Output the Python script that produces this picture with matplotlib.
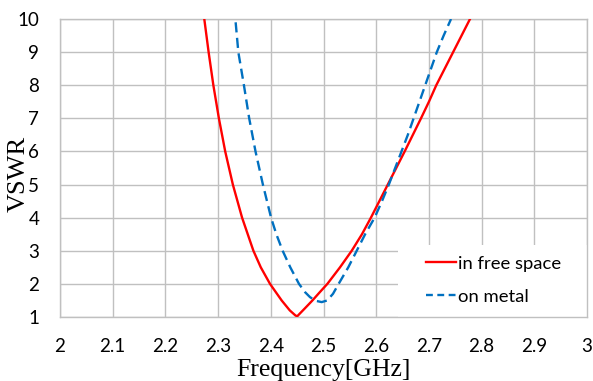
import matplotlib
matplotlib.use("Agg")
import matplotlib.pyplot as plt
from matplotlib.lines import Line2D
from matplotlib.patches import Rectangle

# Data
free_f = [2.2738, 2.282, 2.291, 2.3015, 2.3135, 2.328, 2.3455, 2.367, 2.381, 2.3985, 2.4206,
          2.436, 2.4465, 2.450, 2.464, 2.479, 2.493, 2.5073, 2.5313, 2.5535, 2.573, 2.590,
          2.606, 2.622, 2.638, 2.654, 2.6695, 2.685, 2.700, 2.714, 2.730, 2.746, 2.762, 2.778]
free_v = [10, 9, 8, 7, 6, 5, 4, 3, 2.5, 2.0, 1.5,
          1.2, 1.05, 1.02, 1.25, 1.5, 1.75, 2.0, 2.5, 3.0, 3.5, 4.0,
          4.5, 5.0, 5.5, 6.0, 6.5, 7.0, 7.5, 8.0, 8.5, 9.0, 9.5, 10.0]

metal_f = [2.3333, 2.3384, 2.349, 2.359, 2.371, 2.385, 2.4005, 2.4105, 2.4225, 2.437, 2.4535,
           2.465, 2.4744, 2.485, 2.4966, 2.507, 2.518, 2.5287, 2.547, 2.563, 2.579, 2.597,
           2.611, 2.624, 2.636, 2.648, 2.660, 2.671, 2.682, 2.693, 2.704, 2.715, 2.728, 2.742]
metal_v = [9.9, 9, 8, 7, 6, 5, 4, 3.5, 3.0, 2.5, 2.0,
           1.75, 1.6, 1.49, 1.45, 1.5, 1.7, 2.0, 2.5, 3.0, 3.5, 4.0,
           4.5, 5.0, 5.5, 6.0, 6.5, 7.0, 7.5, 8.0, 8.5, 9.0, 9.5, 10.0]

x_ticks = [2.0, 2.1, 2.2, 2.3, 2.4, 2.5, 2.6, 2.7, 2.8, 2.9, 3.0]
x_labels = ["2", "2.1", "2.2", "2.3", "2.4", "2.5", "2.6", "2.7", "2.8", "2.9", "3"]
y_ticks = [1, 2, 3, 4, 5, 6, 7, 8, 9, 10]
series_labels = ["in free space", "on metal"]

W, H = 593, 381
fig = plt.figure(figsize=(W / 100, H / 100), dpi=100)
ax = fig.add_axes([60 / W, (H - 317) / H, 527 / W, 298 / H])

grid_c = "#c0c0c0"
ax.set_xlim(2.0, 3.0)
ax.set_ylim(1, 10)
ax.set_xticks(x_ticks)
ax.set_xticklabels(x_labels)
ax.set_yticks(y_ticks)
ax.grid(True, color=grid_c, linewidth=1.0)
ax.set_axisbelow(True)
for s in ax.spines.values():
    s.set_color(grid_c)
    s.set_linewidth(1.0)
    s.set_zorder(1.8)

ax.tick_params(axis="both", length=0, labelsize=13.5, colors="black")
ax.tick_params(axis="x", pad=15)
ax.tick_params(axis="y", pad=15)
for lab in ax.get_xticklabels() + ax.get_yticklabels():
    lab.set_fontfamily("Lato")

red = "#ff0000"
blue = "#0070c0"
ax.plot(free_f, free_v, color=red, lw=1.7, zorder=3, clip_on=True, solid_joinstyle="round")
ax.plot(metal_f, metal_v, color=blue, lw=1.7, dashes=(4.3, 2.3), zorder=3, clip_on=True)

# white legend background
ax.add_patch(Rectangle((0.642, 0.0), 0.36, 0.24, transform=ax.transAxes,
                       facecolor="white", edgecolor="none", zorder=1.7, clip_on=False))

handles = [Line2D([], [], color=red, lw=1.7),
           Line2D([], [], color=blue, lw=1.7, dashes=(2.9, 1.9))]
leg = ax.legend(handles, series_labels, loc="upper left", bbox_to_anchor=(0.6945, 0.205),
                frameon=False, borderpad=0, borderaxespad=0, handlelength=1.6,
                handletextpad=0.12, labelspacing=0.9,
                prop={"family": "Lato", "size": 13.3})

fig.text(18.5 / W, (H - 174) / H, "VSWR", rotation=90, ha="center", va="center",
         fontfamily="Liberation Serif", fontsize=19)
fig.text(323.5 / W, (H - 375.7) / H, "Frequency[GHz]", ha="center", va="baseline",
         fontfamily="Liberation Serif", fontsize=18.5)

fig.savefig("out.png", dpi=100, facecolor="white")
